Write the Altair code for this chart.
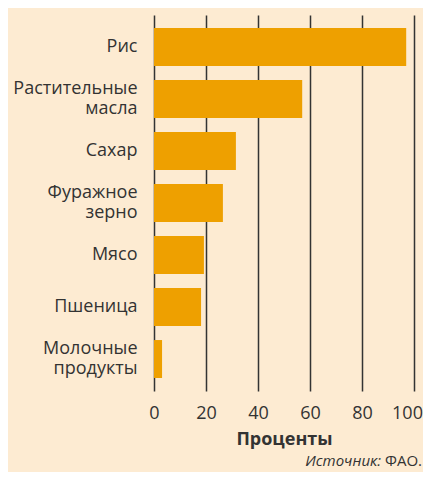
import altair as alt
import pandas as pd

categories = ["Рис", "Растительные масла", "Сахар", "Фуражное зерно", "Мясо", "Пшеница", "Молочные продукты"]
values = [97, 57, 31.5, 26.5, 19.2, 18.1, 3.1]
ticks = [0, 20, 40, 60, 80, 100]

df = pd.DataFrame({"cat": categories, "val": values})

FONT = "Open Sans"
BG = "#FDEBD2"
BAR = "#EEA000"
INK = "#333333"

bars = alt.Chart(df).mark_bar(color=BAR).encode(
    y=alt.Y("cat:N", sort=categories,
            scale=alt.Scale(paddingInner=0.27, paddingOuter=0.25),
            axis=alt.Axis(title=None, ticks=False, domain=False, labelFont=FONT,
                          labelFontSize=18, labelColor=INK, labelPadding=17,
                          labelExpr="split(datum.label, ' ')", labelLineHeight=20,
                          labelOffset={"condition": {"test": "indexof(datum.value, ' ') >= 0", "value": -10},
                                       "value": 0},
                          labelLimit=200)),
    x=alt.X("val:Q", scale=alt.Scale(domain=[0, 100], nice=False),
            axis=alt.Axis(values=ticks, title="Проценты", titleFont=FONT, titleFontSize=18,
                          titleFontWeight="bold", titleColor=INK, titlePadding=8,
                          labelFont=FONT, labelFontSize=18, labelColor=INK, labelPadding=13,
                          labelOffset={"condition": {"test": "datum.value == 100", "value": -7},
                                       "value": 0},
                          ticks=False, domain=False, grid=True, gridColor=INK,
                          gridWidth=1.5, gridOpacity=1, labelFlush=False)),
)

src1 = alt.Chart(pd.DataFrame({"t": ["Источник:"]})).mark_text(
    font=FONT, fontSize=15, fontStyle="italic", align="right", baseline="alphabetic", color=INK
).encode(text="t:N", x=alt.value(227), y=alt.value(451))

src2 = alt.Chart(pd.DataFrame({"t": ["ФАО."]})).mark_text(
    font=FONT, fontSize=15, align="right", baseline="alphabetic", color=INK
).encode(text="t:N", x=alt.value(268), y=alt.value(451))

chart = alt.layer(bars, src1, src2).properties(
    width=260, height=376, background=BG,
    padding={"left": 146, "top": 7, "right": 9, "bottom": 81},
    autosize=alt.AutoSizeParams(type="none"),
).configure_view(stroke=None)

chart.save("out.html", embed_options={"renderer": "svg", "actions": False})
